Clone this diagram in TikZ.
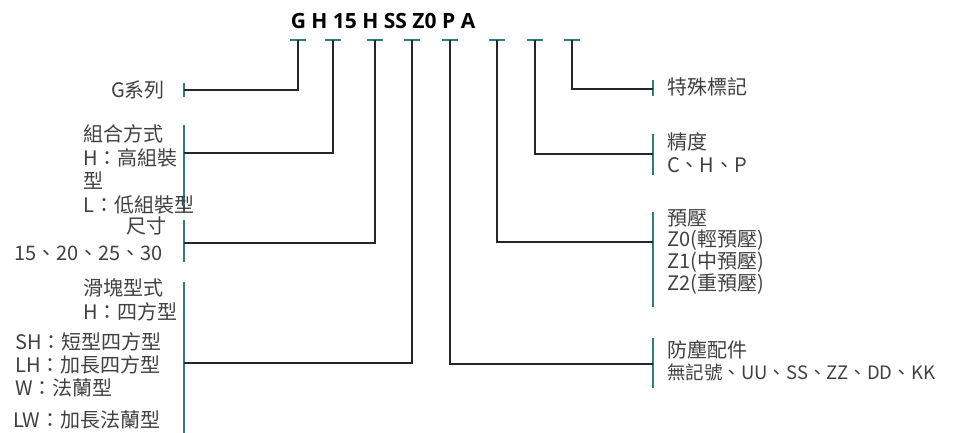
\documentclass[tikz,border=0pt]{standalone}
\usepackage{fontspec}
\setmainfont{Noto Sans CJK TC}
\newfontfamily\codefont{Open Sans}
\definecolor{barteal}{RGB}{47,125,118}
\tikzset{
	codetick/.style={draw=barteal, line width=2pt},
	conn/.style={draw=black!85, line width=1.4pt},
	bar/.style={draw=barteal, line width=2.5pt},
	lbl/.style={inner sep=0pt, text=black!75, font=\fontsize{20}{24}\selectfont},
}

\begin{document}
\begin{tikzpicture}[x=1pt,y=-1pt]
		\useasboundingbox (0,0) rectangle (957,433);
		\node[inner sep=0pt, font=\codefont\bfseries\fontsize{21}{24}\selectfont] (code) at (383,21) {G H 15 H SS Z0 P A};
		% tick marks under the code
		\coordinate (tG) at (298,40);
		\coordinate (tH) at (333,40);
		\coordinate (tSize) at (375,40);
		\coordinate (tBlock) at (412,40);
		\coordinate (tDust) at (450,40);
		\coordinate (tLoad) at (497,40);
		\coordinate (tAcc) at (535,40);
		\coordinate (tSpec) at (572,40);
		\draw[codetick] ([xshift=-8pt]tG) -- ([xshift=8pt]tG);
		\draw[codetick] ([xshift=-8pt]tH) -- ([xshift=8pt]tH);
		\draw[codetick] ([xshift=-8pt]tSize) -- ([xshift=8pt]tSize);
		\draw[codetick] ([xshift=-8pt]tBlock) -- ([xshift=8pt]tBlock);
		\draw[codetick] ([xshift=-8pt]tDust) -- ([xshift=8pt]tDust);
		\draw[codetick] ([xshift=-8pt]tLoad) -- ([xshift=8pt]tLoad);
		\draw[codetick] ([xshift=-8pt]tAcc) -- ([xshift=8pt]tAcc);
		\draw[codetick] ([xshift=-8pt]tSpec) -- ([xshift=8pt]tSpec);
		% bars on the left
		\coordinate (jG) at (184,90);
		\coordinate (jH) at (184,153);
		\coordinate (jSize) at (184,243);
		\coordinate (jBlock) at (184,363);
		\draw[bar, line width=1.6pt] (184,83) -- (184,97);
		\draw[bar] (184,125) -- (184,212);
		\draw[bar] (184,220) -- (184,262);
		\draw[bar] (184,282) -- (184,433);
		% bars on the right
		\coordinate (jSpec) at (653,89);
		\coordinate (jAcc) at (653,154);
		\coordinate (jLoad) at (653,242);
		\coordinate (jDust) at (653,364);
		\draw[bar, line width=1.6pt] (653,80) -- (653,96);
		\draw[bar] (653,134) -- (653,175);
		\draw[bar] (653,212) -- (653,307);
		\draw[bar] (653,338) -- (653,388);
		% connectors
		\draw[conn] (tG) |- (jG);
		\draw[conn] (tH) |- (jH);
		\draw[conn] (tSize) |- (jSize);
		\draw[conn] (tBlock) |- (jBlock);
		\draw[conn] (tDust) |- (jDust);
		\draw[conn] (tLoad) |- (jLoad);
		\draw[conn] (tAcc) |- (jAcc);
		\draw[conn] (tSpec) |- (jSpec);
		% left labels
		\node[lbl, anchor=east] (series) at (165,90) {G系列};
		\node[lbl, anchor=west] (assy) at (83,134) {組合方式};
		\node[lbl, anchor=west] (assyH) at (83,158) {H：高組裝};
		\node[lbl, anchor=west] (assyH2) at (83,181) {型};
		\node[lbl, anchor=west] (assyL) at (83,205) {L：低組裝型};
		\node[lbl, anchor=east] (size) at (167,226) {尺寸};
		\node[lbl, anchor=east] (sizes) at (163,253) {15、20、25、30};
		\node[lbl, anchor=west] (block) at (83,288) {滑塊型式};
		\node[lbl, anchor=west] (blockH) at (83,312) {H：四方型};
		\node[lbl, anchor=west] (blockSH) at (15,342) {SH：短型四方型};
		\node[lbl, anchor=west] (blockLH) at (15,365) {LH：加長四方型};
		\node[lbl, anchor=west] (blockW) at (15,388) {W：法蘭型};
		\node[lbl, anchor=west] (blockLW) at (13,420) {LW：加長法蘭型};
		% right labels
		\node[lbl, anchor=west] (spec) at (667,87) {特殊標記};
		\node[lbl, anchor=west] (acc) at (667,142) {精度};
		\node[lbl, anchor=west] (accs) at (667,165) {C、H、P};
		\node[lbl, anchor=west] (load) at (667,218) {預壓};
		\node[lbl, anchor=west] (load0) at (667,240) {Z0(輕預壓)};
		\node[lbl, anchor=west] (load1) at (667,262) {Z1(中預壓)};
		\node[lbl, anchor=west] (load2) at (667,284) {Z2(重預壓)};
		\node[lbl, anchor=west] (dust) at (667,350) {防塵配件};
		\node[lbl, anchor=west, font=\fontsize{18.5}{24}\selectfont] (dusts) at (667,372) {無記號、UU、SS、ZZ、DD、KK};
	\end{tikzpicture}
\end{document}
